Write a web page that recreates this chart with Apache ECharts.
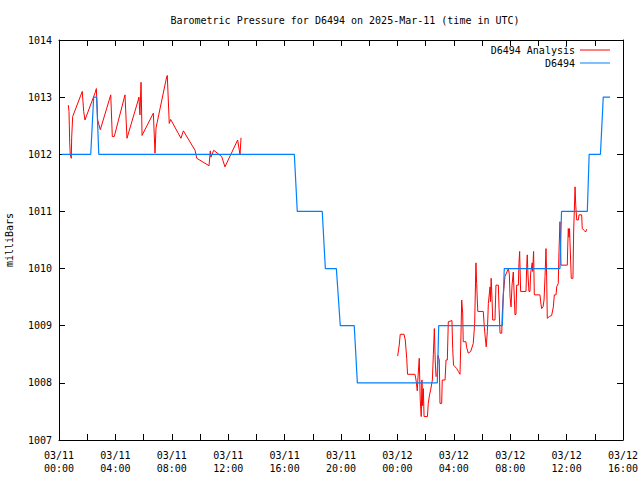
<!DOCTYPE html>
<html>
<head>
<meta charset="utf-8">
<script src="https://cdn.jsdelivr.net/npm/echarts@6/dist/echarts.min.js"></script>
<style>html,body{margin:0;padding:0;background:#fff}#c{width:640px;height:480px}</style>
</head>
<body>
<div id="c"></div>
<script>
// Hours since 2025-03-11 00:00 UTC
var analysisHours = [
  0.66,0.71,0.76,0.80,0.87,0.90,0.97,1.65,1.75,1.84,2.55,2.65,2.74,2.93,3.67,3.78,3.92,4.68,4.82,5.62,
  5.67,5.74,5.82,5.89,6.69,6.81,6.88,7.64,7.68,7.82,7.92,8.65,8.82,9.65,9.77,10.64,10.73,10.78,10.97,11.54,
  11.77,12.67,12.84,12.91,null,
  24.02,24.13,24.20,24.47,24.56,24.66,24.72,25.25,25.34,25.41,25.46,25.55,25.62,25.69,25.74,25.79,25.84,25.89,26.13,26.19,
  26.28,26.36,26.48,26.55,26.62,26.68,26.74,26.81,26.88,26.97,27.02,27.14,27.18,27.38,27.45,27.54,27.61,27.87,27.92,27.98,
  28.21,28.32,28.44,28.49,28.56,28.63,28.67,28.86,28.91,29.03,29.20,29.38,29.48,29.57,29.62,29.70,30.09,30.16,30.23,30.30,
  30.38,30.45,30.57,30.60,30.65,30.71,30.76,30.92,30.99,31.16,31.21,31.28,31.40,31.44,31.51,31.63,31.87,31.94,31.99,32.06,
  32.13,32.22,32.29,32.34,32.41,32.46,32.58,32.62,32.67,32.74,33.12,33.17,33.21,33.26,33.33,33.40,33.45,33.56,33.59,33.66,
  33.71,34.11,34.16,34.23,34.33,34.40,34.47,34.54,34.59,34.63,34.77,34.94,35.06,35.13,35.25,35.30,35.41,35.46,35.53,35.57,
  35.60,36.05,36.08,36.12,36.17,36.21,36.24,36.33,36.45,36.50,36.60,36.65,36.72,36.83,36.88,37.07,37.11,37.28,37.35,37.43
];
var analysisValues = [
  1012.86,1012.75,1012.20,1012.00,1011.93,1012.30,1012.66,1013.10,1012.75,1012.60,1013.07,1013.15,1012.60,1012.43,1013.04,1012.31,1012.31,1013.04,1012.28,1012.95,
  1013.00,1012.69,1013.26,1012.33,1012.72,1012.02,1012.46,1013.36,1013.38,1012.54,1012.61,1012.28,1012.41,1012.07,1011.93,1011.80,1012.06,1011.95,1012.07,1011.96,
  1011.78,1012.25,1011.99,1012.29,null,
  1008.47,1008.66,1008.85,1008.85,1008.75,1008.43,1008.15,1008.15,1008.02,1007.86,1008.10,1008.43,1007.70,1007.41,1008.05,1007.60,1007.90,1007.41,1007.41,1007.64,
  1007.79,1007.88,1008.05,1008.50,1008.95,1008.40,1008.11,1008.13,1008.48,1008.40,1007.64,1007.64,1008.05,1008.05,1008.40,1008.40,1009.07,1009.09,1008.60,1008.31,
  1008.25,1008.20,1008.15,1008.63,1009.45,1009.22,1008.72,1008.72,1008.62,1008.52,1008.55,1008.69,1009.04,1010.10,1009.74,1009.25,1009.25,1008.99,1008.80,1008.63,
  1008.90,1009.39,1009.68,1009.42,1009.83,1009.48,1009.10,1009.10,1009.71,1009.71,1009.30,1008.87,1008.87,1009.22,1009.54,1009.86,1010.00,1009.90,1009.50,1009.33,
  1009.71,1009.94,1009.50,1009.19,1009.20,1009.71,1009.71,1010.09,1010.30,1009.60,1009.60,1010.03,1010.24,1009.90,1009.60,1009.60,1009.92,1010.10,1009.95,1010.30,
  1009.54,1009.54,1009.42,1009.30,1009.33,1009.45,1009.86,1010.35,1009.80,1009.13,1009.16,1009.18,1009.33,1009.54,1009.54,1009.68,1009.74,1010.30,1010.82,1010.50,
  1010.06,1010.06,1010.38,1010.70,1010.55,1010.70,1010.47,1009.83,1009.83,1010.64,1011.43,1011.10,1010.85,1010.85,1010.94,1010.94,1010.70,1010.66,1010.64,1010.69
];
var obsHours = [0.19,2.25,2.46,2.67,2.82,16.69,16.90,18.67,18.89,19.67,19.95,20.94,21.16,26.83,26.93,31.44,31.58,35.53,35.64,37.47,37.60,38.40,38.60,39.08];
var obsValues = [1012,1012,1013,1013,1012,1012,1011,1011,1010,1010,1009,1009,1008,1008,1009,1009,1010,1010,1011,1011,1012,1012,1013,1013];
var yTicks = [1007,1008,1009,1010,1011,1012,1013,1014];
var startDay = 11;

var FONT = 'DejaVu Sans Mono';
function pairs(xs, ys) {
  var out = [];
  for (var i = 0; i < xs.length; i++) out.push(xs[i] === null ? '-' : [xs[i], ys[i]]);
  return out;
}
function xLabel(v) {
  if (v % 4 !== 0) return '';
  var d = startDay + Math.floor(v / 24);
  var h = v % 24;
  return '03/' + (d < 10 ? '0' + d : d) + '\n' + (h < 10 ? '0' + h : h) + ':00';
}
var tick = {show: true, inside: true, length: 6, lineStyle: {color: '#000', width: 1}};
var axisLine = {show: true, onZero: false, lineStyle: {color: '#000', width: 1}};

var chart = echarts.init(document.getElementById('c'), null, {renderer: 'svg'});
chart.setOption({
  animation: false,
  backgroundColor: '#fff',
  textStyle: {fontFamily: FONT},
  title: {
    text: 'Barometric Pressure for D6494 on 2025-Mar-11 (time in UTC)',
    left: 340, top: 10, textAlign: 'center',
    textStyle: {fontFamily: FONT, fontSize: 10, fontWeight: 'normal', color: '#000'}
  },
  legend: [
    {data: ['D6494 Analysis'], right: 25, top: 40, orient: 'vertical', align: 'right',
     icon: 'rect', itemWidth: 30, itemHeight: 1, itemGap: 4,
     textStyle: {fontFamily: FONT, fontSize: 10, color: '#000'}},
    {data: ['D6494'], right: 25, top: 53, orient: 'vertical', align: 'right',
     icon: 'rect', itemWidth: 30, itemHeight: 1, itemGap: 4,
     textStyle: {fontFamily: FONT, fontSize: 10, color: '#000'}}
  ],
  grid: {left: 59, right: 17, top: 40, bottom: 40, containLabel: false, outerBoundsMode: 'none'},
  xAxis: [
    {type: 'value', min: 0, max: 40, interval: 2, position: 'bottom',
     axisLine: axisLine, axisTick: tick, splitLine: {show: false},
     axisLabel: {formatter: xLabel, margin: 9, fontFamily: FONT, fontSize: 10, color: '#000', lineHeight: 13, hideOverlap: false, showMinLabel: true, showMaxLabel: true}},
    {type: 'value', min: 0, max: 40, interval: 2, position: 'top',
     axisLine: axisLine, axisTick: tick, splitLine: {show: false}, axisLabel: {show: false}}
  ],
  yAxis: [
    {type: 'value', min: yTicks[0], max: yTicks[yTicks.length - 1], interval: 1, position: 'left',
     name: 'milliBars', nameLocation: 'middle', nameRotate: 90, nameGap: 45,
     nameTextStyle: {fontFamily: FONT, fontSize: 10, color: '#000'},
     axisLine: axisLine, axisTick: tick, splitLine: {show: false},
     axisLabel: {margin: 7, fontFamily: FONT, fontSize: 10, color: '#000', formatter: function (v) { return String(v); }}},
    {type: 'value', min: yTicks[0], max: yTicks[yTicks.length - 1], interval: 1, position: 'right',
     axisLine: axisLine, axisTick: tick, splitLine: {show: false}, axisLabel: {show: false}}
  ],
  series: [
    {name: 'D6494 Analysis', type: 'line', data: pairs(analysisHours, analysisValues),
     showSymbol: false, symbol: 'none', connectNulls: false, color: '#ff0000',
     lineStyle: {color: '#ff0000', width: 1}},
    {name: 'D6494', type: 'line', data: pairs(obsHours, obsValues),
     showSymbol: false, symbol: 'none', color: '#0080ff',
     lineStyle: {color: '#0080ff', width: 1.2}}
  ]
});
</script>
</body>
</html>
